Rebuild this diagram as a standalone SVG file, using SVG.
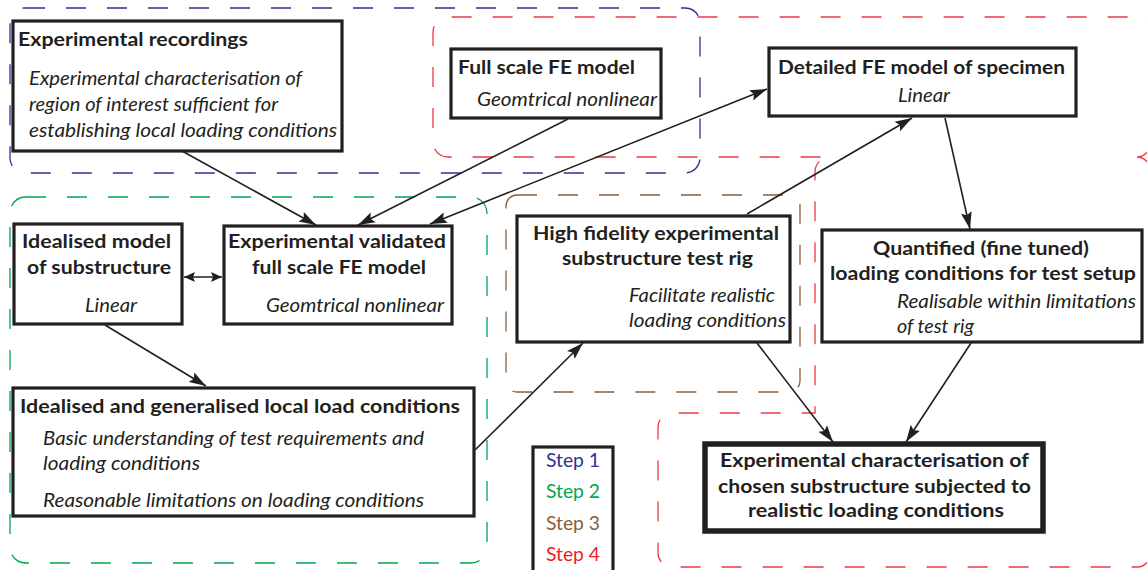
<svg xmlns="http://www.w3.org/2000/svg" width="1147" height="570" viewBox="0 0 1147 570">
<style>
.region{fill:none;stroke-width:1.3;stroke-dasharray:20 21}
.box{fill:#fff;stroke:#231f20;stroke-width:3.2}
.thick{stroke-width:5.5}
.conn{fill:none;stroke:#231f20;stroke-width:1.6}
text{font-family:Lato,"Liberation Sans",sans-serif;fill:#231f20;font-size:19px}
.b{font-weight:bold;font-size:19.5px}
.i{font-style:italic;font-size:20px}
</style>
<defs>
<marker id="ah" markerUnits="userSpaceOnUse" markerWidth="18" markerHeight="12" refX="17" refY="6" orient="auto-start-reverse" viewBox="0 0 18 12">
<path d="M0,0.5 L17,6 L0,11.5 L3,6 z" fill="#231f20"/>
</marker>
<marker id="as" markerUnits="userSpaceOnUse" markerWidth="12" markerHeight="10" refX="11" refY="5" orient="auto-start-reverse" viewBox="0 0 12 10">
<path d="M0,0 L11,5 L0,10 L2,5 z" fill="#231f20"/>
</marker>
</defs>

<g id="regions">
<rect id="step1-region" class="region" x="10" y="8" width="690" height="165" rx="15" stroke="#2e3192"/>
<rect id="step2-region" class="region" x="10" y="197" width="477" height="366" rx="16" stroke="#00a651"/>
<rect id="step3-region" class="region" x="506" y="195" width="294" height="197" rx="11" stroke="#8b5e3c"/>
<path id="step4-region" class="region" stroke="#ee3a43" d="M1137,157 A13,13 0 0 0 1150,144 V30 A13,13 0 0 0 1137,17 H448 A15,15 0 0 0 433,32 V142 A15,15 0 0 0 448,157 H822 M1137,157 A13,13 0 0 1 1150,170 V554 A13,13 0 0 1 1137,567 H672 A14,14 0 0 1 658,553 V427 A14,14 0 0 1 672,413 H815 V172 A15,15 0 0 1 830,157"/>
</g>

<g id="connectors">
<path class="conn" d="M182,151 L316,225" marker-end="url(#ah)"/>
<path class="conn" d="M568,119 L358,225" marker-end="url(#ah)"/>
<path class="conn" d="M430,224 L767,89" marker-start="url(#ah)" marker-end="url(#ah)"/>
<path class="conn" d="M747,214 L912,118" marker-end="url(#ah)"/>
<path class="conn" d="M945,118 L970,229" marker-end="url(#ah)"/>
<path class="conn" d="M105,325 L206,386" marker-end="url(#ah)"/>
<path class="conn" d="M475,450 L583,343" marker-end="url(#ah)"/>
<path class="conn" d="M757,343 L833,442" marker-end="url(#ah)"/>
<path class="conn" d="M971,343 L906,442" marker-end="url(#ah)"/>
<path class="conn" d="M184,277 L222,277" marker-start="url(#as)" marker-end="url(#as)"/>
</g>

<g id="experimental-recordings">
<rect class="box" x="13" y="21" width="329" height="130"/>
<text class="b" x="18" y="46" textLength="230" lengthAdjust="spacingAndGlyphs">Experimental recordings</text>
<text class="i" x="29" y="85" textLength="273" lengthAdjust="spacingAndGlyphs">Experimental characterisation of</text>
<text class="i" x="29" y="111" textLength="249" lengthAdjust="spacingAndGlyphs">region of interest sufficient for</text>
<text class="i" x="29" y="137" textLength="308" lengthAdjust="spacingAndGlyphs">establishing local loading conditions</text>
</g>

<g id="full-scale-fe-model">
<rect class="box" x="451" y="49" width="210" height="69"/>
<text class="b" x="458" y="74" textLength="177" lengthAdjust="spacingAndGlyphs">Full scale FE model</text>
<text class="i" x="477" y="106" textLength="180" lengthAdjust="spacingAndGlyphs">Geomtrical nonlinear</text>
</g>

<g id="detailed-fe-model">
<rect class="box" x="769" y="48" width="307" height="68"/>
<text class="b" x="778" y="74" textLength="287" lengthAdjust="spacingAndGlyphs">Detailed FE model of specimen</text>
<text class="i" x="898" y="102" textLength="52" lengthAdjust="spacingAndGlyphs">Linear</text>
</g>

<g id="idealised-model">
<rect class="box" x="14" y="224" width="168" height="100"/>
<text class="b" x="22" y="248" textLength="149" lengthAdjust="spacingAndGlyphs">Idealised model</text>
<text class="b" x="27" y="274" textLength="144" lengthAdjust="spacingAndGlyphs">of substructure</text>
<text class="i" x="85" y="312" textLength="52" lengthAdjust="spacingAndGlyphs">Linear</text>
</g>

<g id="validated-fe-model">
<rect class="box" x="224" y="226" width="228" height="98"/>
<text class="b" x="228" y="248" textLength="218" lengthAdjust="spacingAndGlyphs">Experimental validated</text>
<text class="b" x="252" y="274" textLength="174" lengthAdjust="spacingAndGlyphs">full scale FE model</text>
<text class="i" x="266" y="312" textLength="178" lengthAdjust="spacingAndGlyphs">Geomtrical nonlinear</text>
</g>

<g id="idealised-load-conditions">
<rect class="box" x="13" y="388" width="461" height="128"/>
<text class="b" x="20" y="413" textLength="440" lengthAdjust="spacingAndGlyphs">Idealised and generalised local load conditions</text>
<text class="i" x="43" y="445" textLength="381" lengthAdjust="spacingAndGlyphs">Basic understanding of test requirements and</text>
<text class="i" x="43" y="470" textLength="157" lengthAdjust="spacingAndGlyphs">loading conditions</text>
<text class="i" x="43" y="507" textLength="381" lengthAdjust="spacingAndGlyphs">Reasonable limitations on loading conditions</text>
</g>

<g id="test-rig">
<rect class="box" x="517" y="216" width="273" height="126"/>
<text class="b" x="533" y="240" textLength="246" lengthAdjust="spacingAndGlyphs">High fidelity experimental</text>
<text class="b" x="562" y="265" textLength="191" lengthAdjust="spacingAndGlyphs">substructure test rig</text>
<text class="i" x="629" y="302" textLength="146" lengthAdjust="spacingAndGlyphs">Facilitate realistic</text>
<text class="i" x="629" y="327" textLength="157" lengthAdjust="spacingAndGlyphs">loading conditions</text>
</g>

<g id="quantified-loading">
<rect class="box" x="822" y="230" width="320" height="112"/>
<text class="b" x="873" y="255" textLength="216" lengthAdjust="spacingAndGlyphs">Quantified (fine tuned)</text>
<text class="b" x="830" y="280" textLength="306" lengthAdjust="spacingAndGlyphs">loading conditions for test setup</text>
<text class="i" x="897" y="308" textLength="239" lengthAdjust="spacingAndGlyphs">Realisable within limitations</text>
<text class="i" x="897" y="333" textLength="77" lengthAdjust="spacingAndGlyphs">of test rig</text>
</g>

<g id="experimental-characterisation">
<rect class="box thick" x="705" y="444" width="338" height="87"/>
<text class="b" x="720" y="467" textLength="309" lengthAdjust="spacingAndGlyphs">Experimental characterisation of</text>
<text class="b" x="718" y="493" textLength="313" lengthAdjust="spacingAndGlyphs">chosen substructure subjected to</text>
<text class="b" x="748" y="517" textLength="256" lengthAdjust="spacingAndGlyphs">realistic loading conditions</text>
</g>

<g id="legend">
<rect class="box" x="533" y="447" width="80" height="126"/>
<text x="546" y="467" style="fill:#2e3192" textLength="54" lengthAdjust="spacingAndGlyphs">Step 1</text>
<text x="546" y="498" style="fill:#00a651" textLength="54" lengthAdjust="spacingAndGlyphs">Step 2</text>
<text x="546" y="530" style="fill:#8b5e3c" textLength="54" lengthAdjust="spacingAndGlyphs">Step 3</text>
<text x="546" y="561" style="fill:#ed1c24" textLength="54" lengthAdjust="spacingAndGlyphs">Step 4</text>
</g>
</svg>
